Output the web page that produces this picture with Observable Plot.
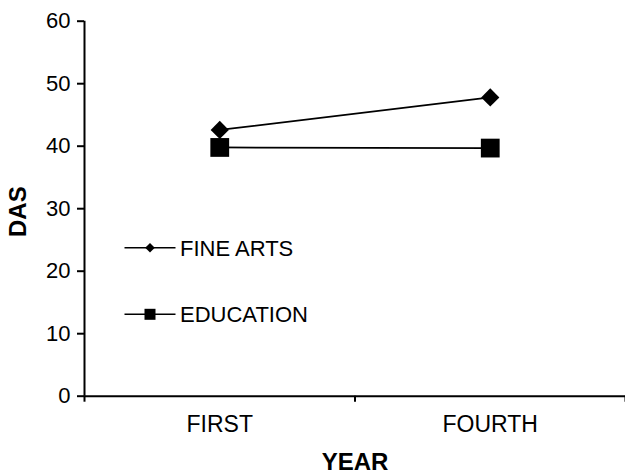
<!DOCTYPE html>
<html><head><meta charset="utf-8">
<script src="https://cdn.jsdelivr.net/npm/d3@7"></script>
<script src="https://cdn.jsdelivr.net/npm/@observablehq/plot@0.6"></script>
<style>
body{margin:0;background:#fff;}
#wrap{position:relative;width:625px;height:474px;font-family:"Liberation Sans",Arial,sans-serif;}
#legend{position:absolute;left:0;top:0;}
</style></head><body><div id="wrap"></div>
<script>
const years = ["FIRST", "FOURTH"];
const fineArts = [42.6, 47.8];
const education = [39.8, 39.7];
const yTicks = [0, 10, 20, 30, 40, 50, 60];
const seriesNames = ["FINE ARTS", "EDUCATION"];
const xTitle = "YEAR";
const yTitle = "DAS";

const rows = [];
years.forEach((yr, i) => {
  rows.push({series: seriesNames[0], x: i + 0.5, v: fineArts[i]});
  rows.push({series: seriesNames[1], x: i + 0.5, v: education[i]});
});
const font = "'Liberation Sans', Arial, sans-serif";

const chart = Plot.plot({
  width: 625,
  height: 474,
  marginLeft: 84,
  marginRight: 0,
  marginTop: 20.7,
  marginBottom: 78.3,
  style: {fontFamily: font, background: "#fff", color: "#000"},
  x: {type: "linear", domain: [0, years.length], axis: null},
  y: {domain: [yTicks[0], yTicks[yTicks.length - 1]], axis: null},
  marks: [
    Plot.axisY(yTicks, {tickSize: 7, tickPadding: 7, fontSize: 22, strokeWidth: 2, tickFormat: d => d, label: null}),
    Plot.axisX(d3.range(years.length + 1), {tickSize: 6, strokeWidth: 2, tickFormat: () => "", label: null}),
    Plot.axisX(years.map((d, i) => i + 0.5), {tickSize: 0, tickPadding: 19, fontSize: 23, tickFormat: d => years[Math.floor(d)], label: null}),
    Plot.ruleY([yTicks[0]], {stroke: "#000", strokeWidth: 2}),
    Plot.ruleX([0], {stroke: "#000", strokeWidth: 2}),
    Plot.line(rows, {x: "x", y: "v", z: "series", stroke: "#000", strokeWidth: 1.7}),
    Plot.dot(rows.filter(d => d.series === seriesNames[0]), {x: "x", y: "v", symbol: "diamond2", r: 8.2, fill: "#000", stroke: null}),
    Plot.dot(rows.filter(d => d.series === seriesNames[1]), {x: "x", y: "v", symbol: "square", r: 10.6, fill: "#000", stroke: null}),
    Plot.text([xTitle], {frameAnchor: "bottom", dy: 66, lineAnchor: "middle", fontSize: 24, fontWeight: "bold", fill: "#000"}),
    Plot.text([yTitle], {frameAnchor: "left", dx: -66, dy: 3, rotate: -90, lineAnchor: "middle", textAnchor: "middle", fontSize: 24, fontWeight: "bold", fill: "#000"})
  ]
});
const wrap = document.getElementById("wrap");
wrap.appendChild(chart);

// legend overlay
const ns = "http://www.w3.org/2000/svg";
const leg = document.createElementNS(ns, "svg");
leg.setAttribute("id", "legend");
leg.setAttribute("width", 625);
leg.setAttribute("height", 474);
const legRows = [{name: seriesNames[0], y: 247.7, sym: "diamond"}, {name: seriesNames[1], y: 314.3, sym: "square"}];
legRows.forEach(r => {
  const l = document.createElementNS(ns, "line");
  l.setAttribute("x1", 124.5); l.setAttribute("x2", 175.5);
  l.setAttribute("y1", r.y); l.setAttribute("y2", r.y);
  l.setAttribute("stroke", "#000"); l.setAttribute("stroke-width", 1.6);
  leg.appendChild(l);
  let m;
  if (r.sym === "diamond") {
    m = document.createElementNS(ns, "path");
    const cx = 150, cy = r.y, h = 4.8;
    m.setAttribute("d", `M${cx},${cy - h}L${cx + h},${cy}L${cx},${cy + h}L${cx - h},${cy}Z`);
  } else {
    m = document.createElementNS(ns, "rect");
    m.setAttribute("x", 150 - 5.5); m.setAttribute("y", r.y - 5.5);
    m.setAttribute("width", 11); m.setAttribute("height", 11);
  }
  m.setAttribute("fill", "#000");
  leg.appendChild(m);
  const t = document.createElementNS(ns, "text");
  t.setAttribute("x", 180); t.setAttribute("y", r.y);
  t.setAttribute("dy", "0.36em");
  t.setAttribute("font-size", 22);
  t.setAttribute("font-family", font);
  t.setAttribute("fill", "#000");
  t.textContent = r.name;
  leg.appendChild(t);
});
wrap.appendChild(leg);
</script></body></html>
